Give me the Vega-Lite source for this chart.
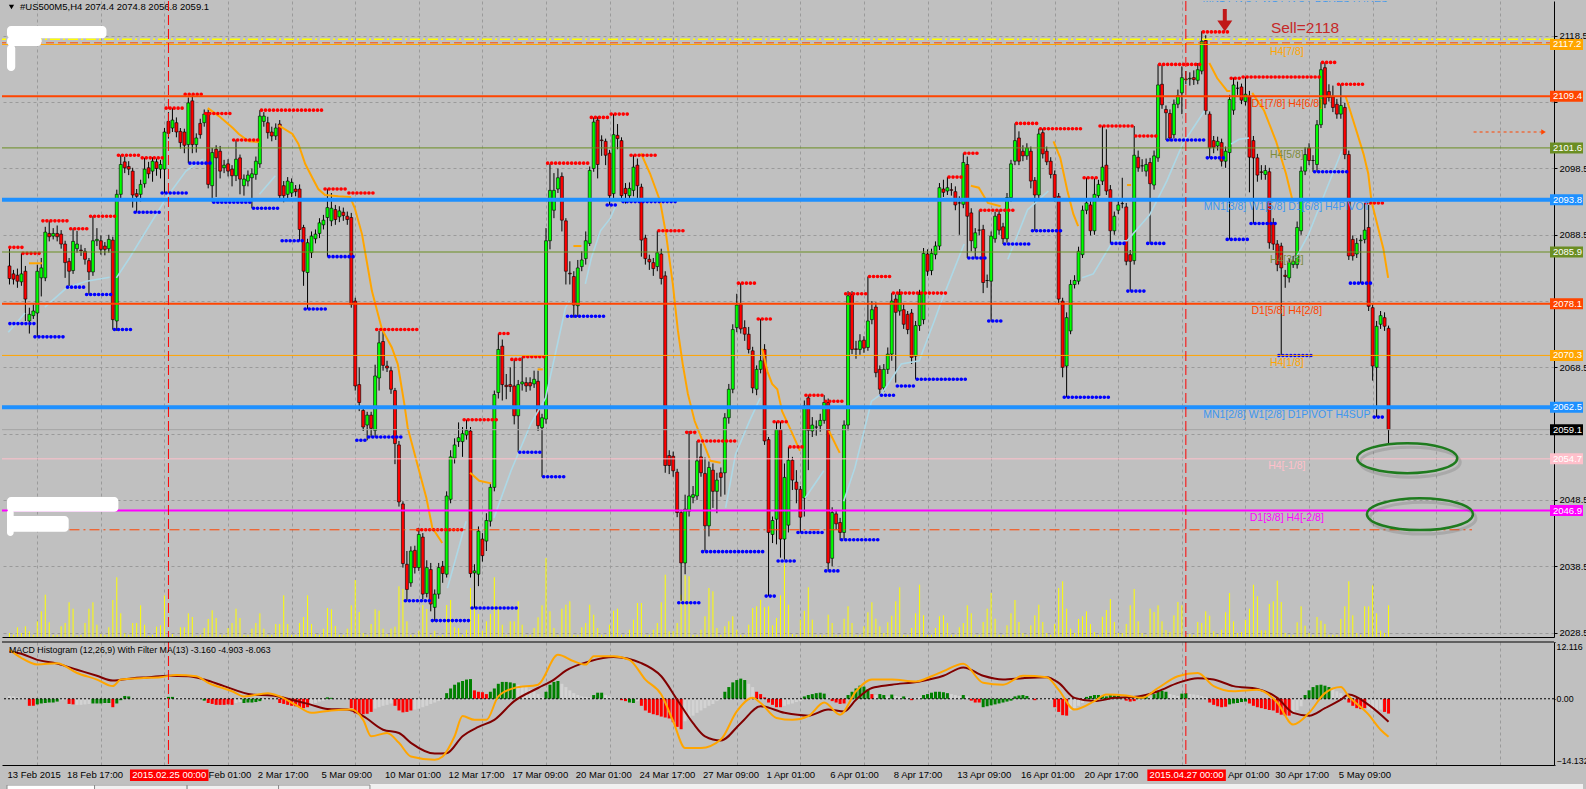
{
"$schema":"https://vega.github.io/schema/vega-lite/v6.json",
"padding":0,
"background":"#C0C0C0",
"spacing":3,
"config":{"view":{"stroke":null},"font":"Liberation Sans","text":{"font":"Liberation Sans"},"axis":{"labelFont":"Liberation Sans","labelFontSize":9.5,"labelColor":"#000000","domainColor":"#000000","tickColor":"#000000","gridColor":"#9A9A9A","gridDash":[3,3],"gridWidth":1}},
"datasets":{
"one":[{}],
"bars":[
{"n":0,"o":2083.8,"h":2086.6,"l":2081.0,"c":2081.9,"v":40,"m":0.6,"k":"s"},
{"n":1,"o":2082.6,"h":2083.2,"l":2081.0,"c":2081.8,"v":23,"m":0.5,"k":"s"},
{"n":2,"o":2082.4,"h":2083.4,"l":2080.5,"c":2081.5,"v":97,"m":0.3,"k":"s"},
{"n":3,"o":2081.4,"h":2085.7,"l":2080.8,"c":2082.6,"v":40,"m":0.2,"k":"s"},
{"n":4,"o":2083.0,"h":2083.8,"l":2075.5,"c":2078.8,"v":107,"m":0.1,"k":"s"},
{"n":5,"o":2075.5,"h":2077.5,"l":2073.6,"c":2076.5,"v":57,"m":-1.5,"k":"r"},
{"n":6,"o":2076.3,"h":2078.0,"l":2075.8,"c":2077.0,"v":23,"m":-1.5,"k":"r"},
{"n":7,"o":2076.7,"h":2084.0,"l":2073.1,"c":2083.0,"v":157,"m":-1.2,"k":"g"},
{"n":8,"o":2082.0,"h":2085.0,"l":2079.2,"c":2083.5,"v":257,"m":-1.0,"k":"g"},
{"n":9,"o":2082.0,"h":2089.7,"l":2081.5,"c":2088.9,"v":423,"m":-0.9,"k":"g"},
{"n":10,"o":2088.7,"h":2090.6,"l":2087.5,"c":2088.2,"v":147,"m":-0.8,"k":"g"},
{"n":11,"o":2088.3,"h":2089.5,"l":2087.8,"c":2088.7,"v":23,"m":-0.8,"k":"g"},
{"n":12,"o":2088.7,"h":2089.9,"l":2087.5,"c":2088.2,"v":23,"m":-0.6,"k":"g"},
{"n":13,"o":2088.6,"h":2089.2,"l":2086.4,"c":2087.1,"v":107,"m":-0.3,"k":"s"},
{"n":14,"o":2087.1,"h":2087.6,"l":2082.0,"c":2084.3,"v":140,"m":-0.2,"k":"s"},
{"n":15,"o":2084.5,"h":2085.0,"l":2080.6,"c":2083.0,"v":347,"m":-1.1,"k":"r"},
{"n":16,"o":2083.1,"h":2089.4,"l":2082.6,"c":2087.5,"v":283,"m":-1.2,"k":"r"},
{"n":17,"o":2086.4,"h":2089.1,"l":2085.8,"c":2087.1,"v":17,"m":-1.3,"k":"s"},
{"n":18,"o":2086.2,"h":2087.0,"l":2085.3,"c":2086.1,"v":23,"m":-1.3,"k":"s"},
{"n":19,"o":2086.0,"h":2086.5,"l":2084.0,"c":2084.8,"v":140,"m":-1.2,"k":"s"},
{"n":20,"o":2084.6,"h":2085.0,"l":2079.5,"c":2082.9,"v":283,"m":-1.1,"k":"s"},
{"n":21,"o":2082.9,"h":2091.3,"l":2082.3,"c":2087.6,"v":347,"m":-1.0,"k":"g"},
{"n":22,"o":2087.6,"h":2089.5,"l":2086.8,"c":2087.8,"v":123,"m":-1.0,"k":"g"},
{"n":23,"o":2087.6,"h":2088.4,"l":2085.5,"c":2086.3,"v":30,"m":-1.0,"k":"g"},
{"n":24,"o":2086.8,"h":2087.4,"l":2085.4,"c":2086.3,"v":23,"m":-0.9,"k":"g"},
{"n":25,"o":2086.4,"h":2088.5,"l":2085.8,"c":2087.8,"v":97,"m":-0.9,"k":"g"},
{"n":26,"o":2087.7,"h":2088.2,"l":2074.2,"c":2075.7,"v":370,"m":-1.8,"k":"r"},
{"n":27,"o":2075.5,"h":2095.3,"l":2074.0,"c":2094.6,"v":597,"m":-1.0,"k":"g"},
{"n":28,"o":2094.6,"h":2100.5,"l":2094.0,"c":2099.1,"v":237,"m":-0.3,"k":"g"},
{"n":29,"o":2099.5,"h":2100.3,"l":2097.8,"c":2098.6,"v":37,"m":0.6,"k":"g"},
{"n":30,"o":2098.8,"h":2099.6,"l":2097.5,"c":2098.4,"v":23,"m":0.5,"k":"g"},
{"n":31,"o":2098.1,"h":2098.6,"l":2092.6,"c":2094.5,"v":140,"m":0.2,"k":"s"},
{"n":32,"o":2094.7,"h":2095.4,"l":2091.9,"c":2094.3,"v":140,"m":0.1,"k":"s"},
{"n":33,"o":2094.6,"h":2096.8,"l":2093.5,"c":2096.1,"v":317,"m":0.2,"k":"s"},
{"n":34,"o":2096.2,"h":2100.1,"l":2095.6,"c":2098.4,"v":123,"m":0.1,"k":"s"},
{"n":35,"o":2098.6,"h":2099.5,"l":2097.0,"c":2097.7,"v":13,"m":0.1,"k":"s"},
{"n":36,"o":2098.1,"h":2100.2,"l":2096.5,"c":2099.6,"v":23,"m":-0.1,"k":"s"},
{"n":37,"o":2099.5,"h":2100.0,"l":2097.4,"c":2098.5,"v":103,"m":0.1,"k":"s"},
{"n":38,"o":2098.4,"h":2099.8,"l":2097.0,"c":2099.1,"v":117,"m":0.1,"k":"s"},
{"n":39,"o":2098.4,"h":2104.6,"l":2094.8,"c":2104.0,"v":417,"m":0.3,"k":"s"},
{"n":40,"o":2105.6,"h":2107.0,"l":2103.0,"c":2103.8,"v":7,"m":0.4,"k":"g"},
{"n":41,"o":2104.6,"h":2107.6,"l":2104.0,"c":2105.8,"v":30,"m":0.4,"k":"g"},
{"n":42,"o":2105.4,"h":2106.2,"l":2103.2,"c":2104.0,"v":7,"m":0.3,"k":"s"},
{"n":43,"o":2104.1,"h":2104.6,"l":2101.5,"c":2102.4,"v":97,"m":0.3,"k":"s"},
{"n":44,"o":2104.0,"h":2104.5,"l":2100.8,"c":2102.0,"v":97,"m":0.2,"k":"s"},
{"n":45,"o":2102.1,"h":2109.2,"l":2099.3,"c":2108.4,"v":237,"m":0.1,"k":"s"},
{"n":46,"o":2108.7,"h":2109.7,"l":2100.8,"c":2102.1,"v":200,"m":0.1,"k":"s"},
{"n":47,"o":2102.1,"h":2103.8,"l":2100.9,"c":2103.1,"v":13,"m":0,"k":"s"},
{"n":48,"o":2105.3,"h":2106.0,"l":2103.0,"c":2103.6,"v":23,"m":-0.1,"k":"s"},
{"n":49,"o":2105.4,"h":2107.4,"l":2104.8,"c":2106.7,"v":90,"m":-0.4,"k":"g"},
{"n":50,"o":2106.9,"h":2107.4,"l":2095.5,"c":2096.1,"v":180,"m":-0.9,"k":"r"},
{"n":51,"o":2095.9,"h":2101.6,"l":2093.4,"c":2100.9,"v":267,"m":-1.1,"k":"r"},
{"n":52,"o":2101.4,"h":2102.0,"l":2094.2,"c":2100.1,"v":190,"m":-1.3,"k":"r"},
{"n":53,"o":2101.1,"h":2101.9,"l":2097.0,"c":2098.1,"v":23,"m":-1.3,"k":"r"},
{"n":54,"o":2098.6,"h":2099.8,"l":2097.8,"c":2099.0,"v":23,"m":-1.3,"k":"r"},
{"n":55,"o":2099.2,"h":2099.9,"l":2097.3,"c":2098.1,"v":90,"m":-1.2,"k":"r"},
{"n":56,"o":2098.4,"h":2099.0,"l":2095.8,"c":2097.4,"v":140,"m":-1.3,"k":"r"},
{"n":57,"o":2097.4,"h":2102.8,"l":2096.6,"c":2099.9,"v":283,"m":-0.9,"k":"s"},
{"n":58,"o":2100.1,"h":2100.6,"l":2094.6,"c":2096.9,"v":190,"m":-0.7,"k":"s"},
{"n":59,"o":2095.9,"h":2097.6,"l":2094.4,"c":2096.9,"v":23,"m":-0.9,"k":"g"},
{"n":60,"o":2096.6,"h":2098.2,"l":2095.8,"c":2097.5,"v":23,"m":-0.8,"k":"g"},
{"n":61,"o":2097.1,"h":2098.5,"l":2092.5,"c":2097.7,"v":83,"m":-0.8,"k":"g"},
{"n":62,"o":2097.6,"h":2100.3,"l":2096.8,"c":2099.6,"v":140,"m":-0.7,"k":"g"},
{"n":63,"o":2099.2,"h":2107.3,"l":2098.6,"c":2106.4,"v":237,"m":-0.5,"k":"g"},
{"n":64,"o":2105.6,"h":2107.0,"l":2104.8,"c":2106.4,"v":83,"m":-0.3,"k":"s"},
{"n":65,"o":2105.4,"h":2106.3,"l":2103.0,"c":2103.9,"v":23,"m":-0.2,"k":"s"},
{"n":66,"o":2104.0,"h":2104.8,"l":2102.6,"c":2103.4,"v":23,"m":0.1,"k":"s"},
{"n":67,"o":2103.4,"h":2105.3,"l":2102.8,"c":2104.6,"v":130,"m":0.1,"k":"s"},
{"n":68,"o":2105.2,"h":2105.8,"l":2093.8,"c":2094.4,"v":130,"m":-0.9,"k":"r"},
{"n":69,"o":2095.9,"h":2096.6,"l":2093.4,"c":2094.4,"v":417,"m":-1.1,"k":"r"},
{"n":70,"o":2094.6,"h":2097.2,"l":2094.0,"c":2096.6,"v":130,"m":-1.3,"k":"r"},
{"n":71,"o":2094.8,"h":2097.0,"l":2094.2,"c":2096.4,"v":23,"m":-1.5,"k":"r"},
{"n":72,"o":2095.4,"h":2096.0,"l":2094.3,"c":2095.0,"v":23,"m":-1.6,"k":"r"},
{"n":73,"o":2095.4,"h":2096.1,"l":2087.6,"c":2089.3,"v":140,"m":-1.8,"k":"r"},
{"n":74,"o":2089.6,"h":2090.0,"l":2080.8,"c":2083.0,"v":200,"m":-2.0,"k":"r"},
{"n":75,"o":2082.8,"h":2087.9,"l":2077.3,"c":2087.3,"v":417,"m":-1.8,"k":"r"},
{"n":76,"o":2085.8,"h":2089.0,"l":2085.0,"c":2088.3,"v":130,"m":-1.2,"k":"s"},
{"n":77,"o":2087.9,"h":2089.3,"l":2087.2,"c":2088.6,"v":30,"m":-0.9,"k":"s"},
{"n":78,"o":2088.7,"h":2091.0,"l":2088.0,"c":2090.3,"v":23,"m":-0.6,"k":"s"},
{"n":79,"o":2090.0,"h":2091.5,"l":2089.3,"c":2090.7,"v":83,"m":-0.4,"k":"s"},
{"n":80,"o":2091.1,"h":2095.4,"l":2085.2,"c":2092.6,"v":290,"m":0.3,"k":"g"},
{"n":81,"o":2090.6,"h":2094.8,"l":2089.8,"c":2092.5,"v":277,"m":0.2,"k":"g"},
{"n":82,"o":2092.3,"h":2093.0,"l":2090.0,"c":2090.8,"v":110,"m":0.1,"k":"s"},
{"n":83,"o":2091.2,"h":2092.8,"l":2090.4,"c":2092.1,"v":23,"m":-0.1,"k":"s"},
{"n":84,"o":2091.9,"h":2092.6,"l":2090.6,"c":2091.4,"v":23,"m":0.1,"k":"s"},
{"n":85,"o":2091.3,"h":2092.0,"l":2090.0,"c":2090.8,"v":83,"m":0,"k":"s"},
{"n":86,"o":2091.1,"h":2091.8,"l":2077.5,"c":2078.0,"v":317,"m":-2.0,"k":"r"},
{"n":87,"o":2078.5,"h":2079.0,"l":2065.0,"c":2065.7,"v":570,"m":-3.1,"k":"r"},
{"n":88,"o":2065.9,"h":2068.5,"l":2061.9,"c":2063.2,"v":250,"m":-3.3,"k":"r"},
{"n":89,"o":2062.0,"h":2062.4,"l":2058.9,"c":2059.5,"v":40,"m":-3.3,"k":"r"},
{"n":90,"o":2059.8,"h":2061.8,"l":2057.5,"c":2061.3,"v":23,"m":-3.2,"k":"r"},
{"n":91,"o":2061.3,"h":2061.8,"l":2058.0,"c":2059.3,"v":130,"m":-2.8,"k":"r"},
{"n":92,"o":2059.0,"h":2068.9,"l":2058.0,"c":2067.2,"v":277,"m":-2.1,"k":"s"},
{"n":93,"o":2066.9,"h":2074.0,"l":2065.0,"c":2072.2,"v":263,"m":-1.8,"k":"s"},
{"n":94,"o":2072.4,"h":2074.2,"l":2068.0,"c":2068.8,"v":83,"m":-1.5,"k":"s"},
{"n":95,"o":2068.7,"h":2069.5,"l":2067.8,"c":2068.4,"v":30,"m":-1.3,"k":"s"},
{"n":96,"o":2068.0,"h":2068.6,"l":2064.5,"c":2065.2,"v":83,"m":-1.0,"k":"s"},
{"n":97,"o":2065.0,"h":2065.4,"l":2053.9,"c":2057.0,"v":103,"m":-1.5,"k":"r"},
{"n":98,"o":2056.8,"h":2057.4,"l":2047.5,"c":2048.2,"v":507,"m":-2.5,"k":"r"},
{"n":99,"o":2047.9,"h":2048.3,"l":2038.3,"c":2038.9,"v":480,"m":-2.9,"k":"r"},
{"n":100,"o":2038.8,"h":2040.8,"l":2033.3,"c":2035.0,"v":157,"m":-2.8,"k":"r"},
{"n":101,"o":2036.0,"h":2041.5,"l":2035.4,"c":2040.8,"v":23,"m":-2.5,"k":"r"},
{"n":102,"o":2040.9,"h":2041.6,"l":2037.4,"c":2038.3,"v":23,"m":-2.3,"k":"s"},
{"n":103,"o":2038.3,"h":2044.3,"l":2037.8,"c":2043.3,"v":63,"m":-2.1,"k":"s"},
{"n":104,"o":2042.9,"h":2043.5,"l":2033.5,"c":2034.3,"v":320,"m":-1.8,"k":"s"},
{"n":105,"o":2034.4,"h":2039.4,"l":2033.8,"c":2038.3,"v":280,"m":-1.5,"k":"s"},
{"n":106,"o":2038.0,"h":2039.0,"l":2031.7,"c":2032.8,"v":23,"m":-1.1,"k":"s"},
{"n":107,"o":2032.3,"h":2035.0,"l":2030.2,"c":2034.3,"v":63,"m":-0.8,"k":"s"},
{"n":108,"o":2034.3,"h":2039.0,"l":2033.6,"c":2038.3,"v":13,"m":-0.5,"k":"s"},
{"n":109,"o":2038.5,"h":2039.3,"l":2036.0,"c":2037.4,"v":23,"m":-0.2,"k":"s"},
{"n":110,"o":2037.3,"h":2049.8,"l":2036.8,"c":2049.1,"v":320,"m":1.2,"k":"g"},
{"n":111,"o":2048.6,"h":2056.0,"l":2048.0,"c":2055.0,"v":370,"m":2.2,"k":"g"},
{"n":112,"o":2054.8,"h":2057.8,"l":2054.0,"c":2056.8,"v":97,"m":3.0,"k":"g"},
{"n":113,"o":2057.3,"h":2060.2,"l":2056.5,"c":2057.9,"v":90,"m":3.5,"k":"g"},
{"n":114,"o":2057.3,"h":2059.5,"l":2055.0,"c":2058.5,"v":23,"m":3.8,"k":"g"},
{"n":115,"o":2058.3,"h":2060.6,"l":2057.6,"c":2059.0,"v":73,"m":4.1,"k":"g"},
{"n":116,"o":2058.9,"h":2059.5,"l":2036.8,"c":2037.4,"v":490,"m":4.2,"k":"g"},
{"n":117,"o":2037.5,"h":2038.8,"l":2032.2,"c":2037.8,"v":640,"m":1.8,"k":"r"},
{"n":118,"o":2037.3,"h":2044.5,"l":2035.5,"c":2043.8,"v":230,"m":1.5,"k":"r"},
{"n":119,"o":2042.6,"h":2043.5,"l":2039.2,"c":2040.1,"v":63,"m":1.4,"k":"r"},
{"n":120,"o":2042.3,"h":2046.5,"l":2040.8,"c":2045.4,"v":157,"m":1.0,"k":"r"},
{"n":121,"o":2045.3,"h":2051.0,"l":2044.5,"c":2050.4,"v":230,"m":1.5,"k":"g"},
{"n":122,"o":2050.4,"h":2065.0,"l":2049.8,"c":2064.4,"v":597,"m":2.2,"k":"g"},
{"n":123,"o":2064.7,"h":2073.6,"l":2063.8,"c":2071.2,"v":307,"m":3.2,"k":"g"},
{"n":124,"o":2071.7,"h":2072.7,"l":2063.5,"c":2065.9,"v":123,"m":3.6,"k":"g"},
{"n":125,"o":2065.8,"h":2067.5,"l":2063.7,"c":2065.6,"v":23,"m":3.6,"k":"g"},
{"n":126,"o":2065.9,"h":2068.5,"l":2064.8,"c":2065.6,"v":157,"m":3.5,"k":"g"},
{"n":127,"o":2065.7,"h":2069.7,"l":2059.9,"c":2061.2,"v":157,"m":3.3,"k":"g"},
{"n":128,"o":2061.2,"h":2066.6,"l":2055.7,"c":2065.9,"v":357,"m":3.0,"k":"s"},
{"n":129,"o":2066.0,"h":2070.1,"l":2065.0,"c":2066.3,"v":123,"m":2.8,"k":"s"},
{"n":130,"o":2066.2,"h":2067.0,"l":2064.8,"c":2065.7,"v":23,"m":2.5,"k":"s"},
{"n":131,"o":2066.2,"h":2067.0,"l":2065.0,"c":2065.7,"v":23,"m":2.0,"k":"s"},
{"n":132,"o":2066.0,"h":2068.0,"l":2065.4,"c":2066.7,"v":90,"m":1.5,"k":"s"},
{"n":133,"o":2066.4,"h":2068.0,"l":2058.9,"c":2059.7,"v":197,"m":1.0,"k":"s"},
{"n":134,"o":2059.4,"h":2061.5,"l":2052.0,"c":2060.9,"v":317,"m":0.3,"k":"s"},
{"n":135,"o":2060.7,"h":2089.5,"l":2060.0,"c":2087.6,"v":790,"m":1.5,"k":"g"},
{"n":136,"o":2087.6,"h":2099.2,"l":2086.3,"c":2095.2,"v":257,"m":3.0,"k":"g"},
{"n":137,"o":2092.2,"h":2097.8,"l":2091.0,"c":2095.2,"v":90,"m":3.6,"k":"g"},
{"n":138,"o":2095.4,"h":2098.5,"l":2094.8,"c":2097.1,"v":23,"m":3.8,"k":"g"},
{"n":139,"o":2097.3,"h":2097.9,"l":2089.0,"c":2090.7,"v":283,"m":3.2,"k":"s"},
{"n":140,"o":2090.6,"h":2091.0,"l":2081.0,"c":2083.0,"v":323,"m":2.5,"k":"s"},
{"n":141,"o":2082.7,"h":2084.5,"l":2081.0,"c":2082.6,"v":357,"m":1.8,"k":"s"},
{"n":142,"o":2082.2,"h":2083.0,"l":2076.0,"c":2077.9,"v":23,"m":1.2,"k":"s"},
{"n":143,"o":2077.8,"h":2084.7,"l":2076.1,"c":2083.5,"v":23,"m":0.8,"k":"s"},
{"n":144,"o":2083.7,"h":2086.0,"l":2083.0,"c":2084.7,"v":97,"m":0.5,"k":"s"},
{"n":145,"o":2084.9,"h":2089.0,"l":2084.0,"c":2087.6,"v":140,"m":0.4,"k":"s"},
{"n":146,"o":2087.2,"h":2098.8,"l":2086.8,"c":2098.2,"v":323,"m":0.3,"k":"s"},
{"n":147,"o":2098.5,"h":2106.2,"l":2098.0,"c":2105.5,"v":223,"m":0.8,"k":"g"},
{"n":148,"o":2105.8,"h":2106.3,"l":2097.0,"c":2099.1,"v":90,"m":1.3,"k":"g"},
{"n":149,"o":2102.8,"h":2103.5,"l":2100.4,"c":2102.7,"v":23,"m":1.3,"k":"g"},
{"n":150,"o":2102.6,"h":2103.0,"l":2099.0,"c":2100.5,"v":23,"m":0.8,"k":"s"},
{"n":151,"o":2100.8,"h":2101.3,"l":2093.0,"c":2094.4,"v":123,"m":0.5,"k":"s"},
{"n":152,"o":2094.7,"h":2106.7,"l":2094.0,"c":2103.6,"v":263,"m":0.2,"k":"s"},
{"n":153,"o":2103.5,"h":2105.2,"l":2101.4,"c":2103.0,"v":283,"m":0.1,"k":"s"},
{"n":154,"o":2102.7,"h":2103.2,"l":2093.5,"c":2094.4,"v":23,"m":-0.3,"k":"r"},
{"n":155,"o":2095.5,"h":2096.3,"l":2093.2,"c":2094.7,"v":23,"m":-0.5,"k":"r"},
{"n":156,"o":2094.4,"h":2096.4,"l":2093.5,"c":2095.5,"v":73,"m":-0.8,"k":"g"},
{"n":157,"o":2095.2,"h":2100.5,"l":2094.3,"c":2098.7,"v":173,"m":-0.9,"k":"g"},
{"n":158,"o":2099.0,"h":2100.0,"l":2094.0,"c":2095.9,"v":340,"m":-0.5,"k":"s"},
{"n":159,"o":2095.7,"h":2096.2,"l":2085.2,"c":2087.7,"v":340,"m":-1.5,"k":"r"},
{"n":160,"o":2088.0,"h":2088.5,"l":2084.0,"c":2084.9,"v":23,"m":-2.5,"k":"r"},
{"n":161,"o":2084.8,"h":2085.5,"l":2083.2,"c":2084.4,"v":23,"m":-3.0,"k":"r"},
{"n":162,"o":2084.3,"h":2085.0,"l":2082.3,"c":2083.4,"v":73,"m":-3.3,"k":"r"},
{"n":163,"o":2083.7,"h":2089.1,"l":2083.0,"c":2085.8,"v":140,"m":-3.5,"k":"r"},
{"n":164,"o":2085.6,"h":2086.4,"l":2081.0,"c":2081.9,"v":347,"m":-3.8,"k":"r"},
{"n":165,"o":2082.3,"h":2083.0,"l":2052.6,"c":2053.7,"v":623,"m":-4.0,"k":"r"},
{"n":166,"o":2055.2,"h":2056.0,"l":2052.4,"c":2053.7,"v":57,"m":-4.2,"k":"r"},
{"n":167,"o":2055.1,"h":2055.8,"l":2052.0,"c":2052.9,"v":57,"m":-5.0,"k":"r"},
{"n":168,"o":2052.7,"h":2053.2,"l":2045.9,"c":2046.6,"v":140,"m":-6.0,"k":"r"},
{"n":169,"o":2046.6,"h":2047.0,"l":2033.3,"c":2039.0,"v":423,"m":-6.5,"k":"r"},
{"n":170,"o":2039.0,"h":2049.3,"l":2037.3,"c":2047.1,"v":617,"m":-4.8,"k":"s"},
{"n":171,"o":2046.8,"h":2058.9,"l":2046.0,"c":2049.1,"v":607,"m":-4.2,"k":"s"},
{"n":172,"o":2048.9,"h":2050.6,"l":2048.0,"c":2049.3,"v":23,"m":-3.6,"k":"s"},
{"n":173,"o":2049.1,"h":2057.4,"l":2048.5,"c":2054.4,"v":23,"m":-3.0,"k":"s"},
{"n":174,"o":2055.0,"h":2057.0,"l":2052.0,"c":2052.6,"v":73,"m":-2.5,"k":"s"},
{"n":175,"o":2052.5,"h":2054.9,"l":2040.8,"c":2044.6,"v":207,"m":-2.0,"k":"s"},
{"n":176,"o":2044.6,"h":2054.3,"l":2043.0,"c":2053.4,"v":490,"m":-1.5,"k":"s"},
{"n":177,"o":2053.0,"h":2054.0,"l":2047.3,"c":2049.8,"v":457,"m":-1.1,"k":"s"},
{"n":178,"o":2049.8,"h":2052.6,"l":2046.5,"c":2051.5,"v":90,"m":-0.5,"k":"s"},
{"n":179,"o":2052.6,"h":2053.4,"l":2049.0,"c":2051.9,"v":23,"m":0.2,"k":"s"},
{"n":180,"o":2052.6,"h":2061.6,"l":2049.3,"c":2060.9,"v":107,"m":1.5,"k":"g"},
{"n":181,"o":2060.9,"h":2066.0,"l":2060.0,"c":2065.2,"v":157,"m":2.5,"k":"g"},
{"n":182,"o":2065.2,"h":2075.0,"l":2064.6,"c":2074.2,"v":207,"m":3.5,"k":"g"},
{"n":183,"o":2074.5,"h":2079.6,"l":2073.8,"c":2077.9,"v":73,"m":4.0,"k":"g"},
{"n":184,"o":2078.0,"h":2081.2,"l":2073.6,"c":2074.3,"v":23,"m":4.3,"k":"g"},
{"n":185,"o":2074.5,"h":2075.6,"l":2072.5,"c":2073.5,"v":23,"m":4.0,"k":"g"},
{"n":186,"o":2073.5,"h":2074.6,"l":2070.6,"c":2071.2,"v":123,"m":3.2,"k":"s"},
{"n":187,"o":2071.0,"h":2071.6,"l":2064.6,"c":2065.4,"v":290,"m":2.5,"k":"s"},
{"n":188,"o":2065.2,"h":2068.8,"l":2064.3,"c":2068.2,"v":307,"m":1.5,"k":"r"},
{"n":189,"o":2068.2,"h":2075.8,"l":2067.6,"c":2069.5,"v":373,"m":1.0,"k":"r"},
{"n":190,"o":2071.2,"h":2072.0,"l":2056.8,"c":2057.4,"v":297,"m":0.3,"k":"r"},
{"n":191,"o":2057.6,"h":2058.0,"l":2034.0,"c":2043.6,"v":307,"m":-0.8,"k":"r"},
{"n":192,"o":2043.3,"h":2046.0,"l":2042.0,"c":2045.4,"v":117,"m":-1.3,"k":"r"},
{"n":193,"o":2045.6,"h":2060.3,"l":2041.8,"c":2059.1,"v":190,"m":-1.8,"k":"r"},
{"n":194,"o":2059.1,"h":2060.3,"l":2039.8,"c":2042.6,"v":417,"m":-1.8,"k":"r"},
{"n":195,"o":2042.6,"h":2054.0,"l":2039.5,"c":2051.9,"v":737,"m":-1.5,"k":"s"},
{"n":196,"o":2044.7,"h":2056.5,"l":2043.6,"c":2054.5,"v":323,"m":-1.2,"k":"s"},
{"n":197,"o":2054.5,"h":2055.0,"l":2050.0,"c":2051.5,"v":30,"m":-1.0,"k":"s"},
{"n":198,"o":2051.2,"h":2053.0,"l":2048.0,"c":2050.1,"v":23,"m":-0.7,"k":"s"},
{"n":199,"o":2050.1,"h":2050.6,"l":2043.6,"c":2045.9,"v":173,"m":-0.5,"k":"s"},
{"n":200,"o":2048.8,"h":2063.5,"l":2046.0,"c":2062.7,"v":263,"m":0.5,"k":"g"},
{"n":201,"o":2063.9,"h":2064.3,"l":2053.0,"c":2059.0,"v":497,"m":0.8,"k":"g"},
{"n":202,"o":2058.9,"h":2061.0,"l":2058.0,"c":2059.8,"v":173,"m":1.0,"k":"g"},
{"n":203,"o":2059.5,"h":2060.5,"l":2058.2,"c":2059.5,"v":23,"m":1.2,"k":"g"},
{"n":204,"o":2059.7,"h":2061.5,"l":2058.8,"c":2060.5,"v":23,"m":1.3,"k":"g"},
{"n":205,"o":2060.5,"h":2064.3,"l":2060.0,"c":2063.2,"v":23,"m":1.1,"k":"g"},
{"n":206,"o":2063.2,"h":2063.8,"l":2037.8,"c":2039.0,"v":223,"m":0.2,"k":"s"},
{"n":207,"o":2039.7,"h":2047.4,"l":2038.5,"c":2046.6,"v":140,"m":-0.5,"k":"r"},
{"n":208,"o":2046.4,"h":2047.0,"l":2044.0,"c":2044.9,"v":23,"m":-0.8,"k":"r"},
{"n":209,"o":2045.1,"h":2045.8,"l":2042.4,"c":2043.6,"v":23,"m":-1.1,"k":"r"},
{"n":210,"o":2043.6,"h":2060.5,"l":2042.6,"c":2059.8,"v":183,"m":-1.0,"k":"r"},
{"n":211,"o":2059.8,"h":2080.0,"l":2059.0,"c":2079.3,"v":307,"m":0.8,"k":"g"},
{"n":212,"o":2079.5,"h":2080.0,"l":2070.5,"c":2071.2,"v":140,"m":1.5,"k":"g"},
{"n":213,"o":2071.3,"h":2072.5,"l":2069.8,"c":2071.2,"v":23,"m":2.2,"k":"g"},
{"n":214,"o":2071.2,"h":2073.5,"l":2070.4,"c":2072.5,"v":23,"m":2.8,"k":"g"},
{"n":215,"o":2072.6,"h":2073.2,"l":2070.7,"c":2071.4,"v":107,"m":2.6,"k":"g"},
{"n":216,"o":2071.5,"h":2082.2,"l":2071.0,"c":2075.5,"v":247,"m":2.0,"k":"g"},
{"n":217,"o":2075.7,"h":2078.5,"l":2075.0,"c":2077.2,"v":347,"m":1.0,"k":"r"},
{"n":218,"o":2077.6,"h":2078.3,"l":2067.0,"c":2067.7,"v":183,"m":0.8,"k":"s"},
{"n":219,"o":2068.2,"h":2068.8,"l":2064.3,"c":2065.2,"v":107,"m":1.0,"k":"g"},
{"n":220,"o":2065.4,"h":2069.0,"l":2064.8,"c":2068.2,"v":40,"m":0.8,"k":"g"},
{"n":221,"o":2068.2,"h":2071.5,"l":2067.5,"c":2070.5,"v":147,"m":0.5,"k":"s"},
{"n":222,"o":2070.5,"h":2079.7,"l":2069.5,"c":2078.5,"v":213,"m":0.9,"k":"g"},
{"n":223,"o":2078.8,"h":2079.5,"l":2066.2,"c":2076.8,"v":357,"m":0.6,"k":"s"},
{"n":224,"o":2077.0,"h":2080.3,"l":2076.3,"c":2079.5,"v":497,"m":0.4,"k":"s"},
{"n":225,"o":2077.2,"h":2078.0,"l":2074.3,"c":2075.0,"v":23,"m":0.5,"k":"g"},
{"n":226,"o":2076.5,"h":2077.0,"l":2073.5,"c":2074.2,"v":23,"m":0.3,"k":"s"},
{"n":227,"o":2076.7,"h":2077.3,"l":2069.0,"c":2070.0,"v":90,"m":-0.3,"k":"r"},
{"n":228,"o":2070.2,"h":2075.5,"l":2066.7,"c":2074.8,"v":237,"m":0.2,"k":"s"},
{"n":229,"o":2074.8,"h":2080.2,"l":2074.0,"c":2079.5,"v":523,"m":0.4,"k":"s"},
{"n":230,"o":2075.7,"h":2086.5,"l":2075.0,"c":2085.7,"v":217,"m":0.8,"k":"g"},
{"n":231,"o":2085.6,"h":2086.3,"l":2082.3,"c":2083.0,"v":23,"m":1.0,"k":"g"},
{"n":232,"o":2083.1,"h":2086.4,"l":2082.4,"c":2085.7,"v":23,"m":1.3,"k":"g"},
{"n":233,"o":2085.5,"h":2087.5,"l":2084.8,"c":2086.8,"v":90,"m":1.5,"k":"g"},
{"n":234,"o":2086.8,"h":2096.3,"l":2086.2,"c":2095.6,"v":207,"m":1.5,"k":"g"},
{"n":235,"o":2095.4,"h":2096.8,"l":2094.2,"c":2094.9,"v":217,"m":1.4,"k":"g"},
{"n":236,"o":2095.1,"h":2097.2,"l":2094.5,"c":2095.6,"v":140,"m":1.2,"k":"g"},
{"n":237,"o":2095.3,"h":2096.3,"l":2094.4,"c":2095.2,"v":23,"m":1.0,"k":"s"},
{"n":238,"o":2095.0,"h":2095.8,"l":2092.2,"c":2093.0,"v":23,"m":0.8,"k":"s"},
{"n":239,"o":2093.3,"h":2094.3,"l":2088.5,"c":2093.3,"v":97,"m":0.6,"k":"s"},
{"n":240,"o":2093.1,"h":2100.8,"l":2092.5,"c":2099.4,"v":140,"m":0.8,"k":"g"},
{"n":241,"o":2099.1,"h":2100.3,"l":2085.0,"c":2091.3,"v":317,"m":0.5,"k":"s"},
{"n":242,"o":2091.8,"h":2092.5,"l":2086.0,"c":2087.6,"v":237,"m":-0.4,"k":"r"},
{"n":243,"o":2086.5,"h":2089.5,"l":2085.0,"c":2088.8,"v":23,"m":-0.8,"k":"r"},
{"n":244,"o":2089.2,"h":2092.2,"l":2088.4,"c":2089.2,"v":23,"m":-0.8,"k":"r"},
{"n":245,"o":2089.3,"h":2090.0,"l":2079.7,"c":2081.3,"v":150,"m":-1.8,"k":"g"},
{"n":246,"o":2081.6,"h":2082.5,"l":2080.5,"c":2081.6,"v":283,"m":-1.6,"k":"g"},
{"n":247,"o":2081.5,"h":2089.0,"l":2075.5,"c":2088.3,"v":440,"m":-1.4,"k":"g"},
{"n":248,"o":2087.9,"h":2092.0,"l":2087.3,"c":2091.3,"v":183,"m":-1.2,"k":"g"},
{"n":249,"o":2091.6,"h":2092.2,"l":2088.5,"c":2089.2,"v":23,"m":-1.0,"k":"g"},
{"n":250,"o":2089.7,"h":2090.3,"l":2087.1,"c":2087.9,"v":23,"m":-0.8,"k":"g"},
{"n":251,"o":2087.9,"h":2094.8,"l":2087.3,"c":2094.1,"v":117,"m":-0.6,"k":"g"},
{"n":252,"o":2094.1,"h":2099.8,"l":2093.5,"c":2099.2,"v":237,"m":-0.4,"k":"g"},
{"n":253,"o":2099.6,"h":2105.3,"l":2099.0,"c":2102.7,"v":370,"m":0.5,"k":"g"},
{"n":254,"o":2103.1,"h":2104.1,"l":2099.0,"c":2099.6,"v":150,"m":0.7,"k":"g"},
{"n":255,"o":2101.1,"h":2102.0,"l":2099.6,"c":2100.4,"v":40,"m":0.8,"k":"g"},
{"n":256,"o":2100.4,"h":2102.3,"l":2099.8,"c":2101.6,"v":23,"m":0.6,"k":"g"},
{"n":257,"o":2101.1,"h":2101.8,"l":2095.5,"c":2096.6,"v":117,"m":0.2,"k":"s"},
{"n":258,"o":2096.7,"h":2097.2,"l":2089.1,"c":2094.5,"v":217,"m":-0.3,"k":"r"},
{"n":259,"o":2094.5,"h":2104.5,"l":2094.0,"c":2103.7,"v":323,"m":-0.1,"k":"s"},
{"n":260,"o":2103.9,"h":2104.5,"l":2100.0,"c":2100.7,"v":150,"m":0.1,"k":"s"},
{"n":261,"o":2101.1,"h":2101.8,"l":2099.0,"c":2099.5,"v":40,"m":-0.2,"k":"s"},
{"n":262,"o":2099.6,"h":2100.2,"l":2097.0,"c":2097.6,"v":23,"m":-0.3,"k":"s"},
{"n":263,"o":2097.6,"h":2098.2,"l":2093.5,"c":2094.1,"v":130,"m":-1.8,"k":"r"},
{"n":264,"o":2094.3,"h":2094.8,"l":2078.0,"c":2078.8,"v":490,"m":-2.8,"k":"r"},
{"n":265,"o":2078.5,"h":2079.0,"l":2067.0,"c":2068.5,"v":557,"m":-3.5,"k":"r"},
{"n":266,"o":2068.7,"h":2076.8,"l":2064.0,"c":2076.0,"v":283,"m":-3.6,"k":"r"},
{"n":267,"o":2074.0,"h":2081.7,"l":2073.5,"c":2081.0,"v":83,"m":-2.5,"k":"s"},
{"n":268,"o":2081.0,"h":2082.4,"l":2080.4,"c":2081.6,"v":40,"m":-2.0,"k":"s"},
{"n":269,"o":2081.5,"h":2086.7,"l":2081.0,"c":2086.0,"v":180,"m":-1.5,"k":"s"},
{"n":270,"o":2085.5,"h":2092.9,"l":2085.0,"c":2092.2,"v":207,"m":-0.9,"k":"s"},
{"n":271,"o":2092.2,"h":2097.1,"l":2091.6,"c":2093.3,"v":257,"m":0.4,"k":"g"},
{"n":272,"o":2093.0,"h":2093.7,"l":2088.4,"c":2089.1,"v":130,"m":0.6,"k":"g"},
{"n":273,"o":2089.1,"h":2097.0,"l":2088.5,"c":2094.6,"v":50,"m":0.8,"k":"g"},
{"n":274,"o":2094.4,"h":2096.8,"l":2093.8,"c":2096.1,"v":23,"m":0.8,"k":"g"},
{"n":275,"o":2096.6,"h":2104.9,"l":2096.0,"c":2098.7,"v":203,"m":0.6,"k":"g"},
{"n":276,"o":2099.0,"h":2104.4,"l":2094.5,"c":2095.1,"v":270,"m":0.5,"k":"g"},
{"n":277,"o":2095.3,"h":2096.0,"l":2087.2,"c":2089.1,"v":380,"m":0.8,"k":"g"},
{"n":278,"o":2089.1,"h":2092.0,"l":2088.5,"c":2091.3,"v":150,"m":0.7,"k":"g"},
{"n":279,"o":2092.2,"h":2094.0,"l":2091.6,"c":2093.0,"v":40,"m":0.6,"k":"g"},
{"n":280,"o":2093.2,"h":2097.1,"l":2092.5,"c":2093.2,"v":40,"m":0.3,"k":"s"},
{"n":281,"o":2092.7,"h":2093.3,"l":2083.9,"c":2084.5,"v":130,"m":-0.4,"k":"r"},
{"n":282,"o":2085.5,"h":2086.2,"l":2080.0,"c":2084.5,"v":317,"m":-0.6,"k":"r"},
{"n":283,"o":2084.6,"h":2104.9,"l":2084.0,"c":2100.5,"v":480,"m":-0.5,"k":"r"},
{"n":284,"o":2100.2,"h":2101.2,"l":2098.0,"c":2098.6,"v":157,"m":0.4,"k":"g"},
{"n":285,"o":2098.9,"h":2099.9,"l":2098.0,"c":2098.9,"v":40,"m":0.6,"k":"g"},
{"n":286,"o":2098.1,"h":2100.0,"l":2097.3,"c":2099.1,"v":23,"m":0.5,"k":"g"},
{"n":287,"o":2099.4,"h":2100.1,"l":2087.2,"c":2096.2,"v":283,"m":0.2,"k":"s"},
{"n":288,"o":2096.0,"h":2101.2,"l":2095.3,"c":2100.4,"v":250,"m":1.0,"k":"g"},
{"n":289,"o":2100.1,"h":2114.2,"l":2099.5,"c":2111.1,"v":317,"m":1.5,"k":"g"},
{"n":290,"o":2111.2,"h":2114.1,"l":2107.5,"c":2108.1,"v":157,"m":1.7,"k":"g"},
{"n":291,"o":2107.4,"h":2108.0,"l":2102.8,"c":2106.9,"v":70,"m":1.5,"k":"g"},
{"n":292,"o":2106.8,"h":2107.4,"l":2102.6,"c":2103.1,"v":50,"m":1.0,"k":"s"},
{"n":293,"o":2103.6,"h":2108.9,"l":2103.0,"c":2108.2,"v":217,"m":0.8,"k":"s"},
{"n":294,"o":2108.2,"h":2110.4,"l":2107.6,"c":2109.5,"v":350,"m":0.6,"k":"s"},
{"n":295,"o":2109.9,"h":2113.9,"l":2106.7,"c":2112.2,"v":317,"m":1.1,"k":"g"},
{"n":296,"o":2111.9,"h":2113.2,"l":2111.2,"c":2112.0,"v":23,"m":1.2,"k":"g"},
{"n":297,"o":2112.0,"h":2113.0,"l":2111.0,"c":2112.1,"v":30,"m":1.0,"k":"s"},
{"n":298,"o":2112.2,"h":2113.3,"l":2111.1,"c":2111.9,"v":23,"m":0.9,"k":"s"},
{"n":299,"o":2111.8,"h":2114.4,"l":2111.2,"c":2113.4,"v":150,"m":0.8,"k":"s"},
{"n":300,"o":2113.2,"h":2119.2,"l":2112.7,"c":2117.7,"v":140,"m":0.6,"k":"s"},
{"n":301,"o":2117.8,"h":2118.6,"l":2106.6,"c":2107.2,"v":257,"m":0.4,"k":"s"},
{"n":302,"o":2106.7,"h":2107.1,"l":2100.1,"c":2101.6,"v":213,"m":-0.8,"k":"r"},
{"n":303,"o":2102.7,"h":2103.4,"l":2100.8,"c":2101.7,"v":57,"m":-1.3,"k":"r"},
{"n":304,"o":2101.9,"h":2103.3,"l":2101.2,"c":2102.6,"v":30,"m":-1.6,"k":"r"},
{"n":305,"o":2102.4,"h":2103.0,"l":2098.8,"c":2099.6,"v":73,"m":-1.8,"k":"r"},
{"n":306,"o":2099.6,"h":2101.8,"l":2098.6,"c":2101.1,"v":247,"m":-1.7,"k":"r"},
{"n":307,"o":2100.9,"h":2109.6,"l":2087.8,"c":2108.9,"v":440,"m":-1.2,"k":"g"},
{"n":308,"o":2107.3,"h":2112.2,"l":2106.6,"c":2111.1,"v":157,"m":-1.0,"k":"g"},
{"n":309,"o":2110.6,"h":2111.6,"l":2109.6,"c":2110.6,"v":40,"m":-0.9,"k":"g"},
{"n":310,"o":2110.8,"h":2111.3,"l":2108.2,"c":2108.8,"v":50,"m":-0.7,"k":"g"},
{"n":311,"o":2108.6,"h":2112.3,"l":2108.0,"c":2109.7,"v":173,"m":-0.6,"k":"g"},
{"n":312,"o":2109.4,"h":2110.2,"l":2094.9,"c":2100.2,"v":283,"m":-1.0,"k":"r"},
{"n":313,"o":2102.7,"h":2103.4,"l":2090.2,"c":2100.1,"v":523,"m":-1.5,"k":"r"},
{"n":314,"o":2100.1,"h":2100.7,"l":2096.5,"c":2097.5,"v":407,"m":-1.8,"k":"r"},
{"n":315,"o":2098.0,"h":2099.0,"l":2096.8,"c":2097.9,"v":67,"m":-2.0,"k":"r"},
{"n":316,"o":2097.6,"h":2099.0,"l":2096.8,"c":2098.2,"v":67,"m":-2.2,"k":"r"},
{"n":317,"o":2098.0,"h":2098.6,"l":2086.4,"c":2087.3,"v":330,"m":-2.4,"k":"r"},
{"n":318,"o":2090.3,"h":2091.0,"l":2086.2,"c":2087.1,"v":357,"m":-2.5,"k":"r"},
{"n":319,"o":2087.1,"h":2087.7,"l":2083.0,"c":2084.0,"v":563,"m":-3.0,"k":"r"},
{"n":320,"o":2086.8,"h":2087.3,"l":2070.3,"c":2083.5,"v":350,"m":-3.4,"k":"r"},
{"n":321,"o":2082.4,"h":2083.2,"l":2080.5,"c":2082.2,"v":40,"m":-3.6,"k":"r"},
{"n":322,"o":2082.0,"h":2085.0,"l":2081.3,"c":2084.3,"v":23,"m":-3.6,"k":"r"},
{"n":323,"o":2084.0,"h":2085.3,"l":2083.5,"c":2084.5,"v":23,"m":-3.0,"k":"s"},
{"n":324,"o":2084.0,"h":2090.5,"l":2083.4,"c":2089.6,"v":147,"m":-2.4,"k":"s"},
{"n":325,"o":2089.1,"h":2098.8,"l":2088.5,"c":2098.1,"v":307,"m":-1.6,"k":"s"},
{"n":326,"o":2098.1,"h":2101.7,"l":2097.5,"c":2100.6,"v":113,"m":0.8,"k":"g"},
{"n":327,"o":2101.6,"h":2102.3,"l":2099.0,"c":2099.7,"v":40,"m":1.8,"k":"g"},
{"n":328,"o":2099.7,"h":2100.5,"l":2098.0,"c":2099.7,"v":23,"m":2.5,"k":"g"},
{"n":329,"o":2099.1,"h":2105.8,"l":2098.0,"c":2105.1,"v":200,"m":2.9,"k":"g"},
{"n":330,"o":2105.1,"h":2114.5,"l":2104.6,"c":2113.4,"v":163,"m":3.0,"k":"g"},
{"n":331,"o":2113.7,"h":2114.5,"l":2107.6,"c":2108.2,"v":130,"m":2.8,"k":"g"},
{"n":332,"o":2110.1,"h":2111.2,"l":2108.6,"c":2109.2,"v":23,"m":2.5,"k":"g"},
{"n":333,"o":2109.3,"h":2111.0,"l":2107.0,"c":2107.7,"v":23,"m":2.0,"k":"s"},
{"n":334,"o":2108.2,"h":2109.0,"l":2106.0,"c":2106.7,"v":23,"m":1.6,"k":"s"},
{"n":335,"o":2106.7,"h":2111.2,"l":2106.0,"c":2108.0,"v":180,"m":1.2,"k":"s"},
{"n":336,"o":2107.7,"h":2108.4,"l":2099.9,"c":2100.6,"v":307,"m":0.6,"k":"s"},
{"n":337,"o":2100.6,"h":2101.2,"l":2084.7,"c":2085.3,"v":557,"m":-0.8,"k":"r"},
{"n":338,"o":2087.8,"h":2088.4,"l":2084.6,"c":2085.3,"v":217,"m":-1.5,"k":"r"},
{"n":339,"o":2085.6,"h":2088.0,"l":2085.0,"c":2087.2,"v":40,"m":-2.0,"k":"r"},
{"n":340,"o":2087.6,"h":2088.5,"l":2081.2,"c":2087.7,"v":23,"m":-2.2,"k":"r"},
{"n":341,"o":2087.8,"h":2093.3,"l":2087.2,"c":2089.2,"v":307,"m":-2.0,"k":"r"},
{"n":342,"o":2089.6,"h":2093.0,"l":2077.0,"c":2077.7,"v":307,"m":-2.3,"k":"s"},
{"n":343,"o":2077.5,"h":2078.0,"l":2066.5,"c":2068.7,"v":517,"m":-2.5,"k":"s"},
{"n":344,"o":2068.5,"h":2075.5,"l":2061.0,"c":2074.7,"v":237,"m":-2.4,"k":"s"},
{"n":345,"o":2075.0,"h":2077.0,"l":2074.3,"c":2076.3,"v":63,"m":-2.3,"k":"s"},
{"n":346,"o":2076.0,"h":2076.8,"l":2074.0,"c":2074.7,"v":40,"m":-2.8,"k":"r"},
{"n":347,"o":2074.4,"h":2074.8,"l":2056.8,"c":2059.1,"v":317,"m":-3.16,"k":"r"}
],
"ml":[
{"s":"sig","n":0,"y":10.1},{"s":"sig","n":3,"y":9.6},{"s":"sig","n":7,"y":8.3},{"s":"sig","n":12,"y":7.5},{"s":"sig","n":17,"y":6.2},{"s":"sig","n":22,"y":4.9},{"s":"sig","n":26,"y":3.9},{"s":"sig","n":31,"y":4.4},{"s":"sig","n":35,"y":4.6},{"s":"sig","n":40,"y":4.9},{"s":"sig","n":45,"y":4.8},{"s":"sig","n":49,"y":4.1},{"s":"sig","n":54,"y":2.7},{"s":"sig","n":61,"y":0.9},{"s":"sig","n":66,"y":0.7},{"s":"sig","n":71,"y":-0.2},{"s":"sig","n":76,"y":-1.3},{"s":"sig","n":80,"y":-2.2},{"s":"sig","n":85,"y":-2.3},{"s":"sig","n":89,"y":-3.7},{"s":"sig","n":94,"y":-6.6},{"s":"sig","n":98,"y":-7.3},{"s":"sig","n":101,"y":-9.4},{"s":"sig","n":107,"y":-11.7},{"s":"sig","n":110,"y":-11.6},{"s":"sig","n":114,"y":-8.0},{"s":"sig","n":118,"y":-6.0},{"s":"sig","n":122,"y":-4.5},{"s":"sig","n":127,"y":-0.5},{"s":"sig","n":133,"y":2.3},{"s":"sig","n":137,"y":4.1},{"s":"sig","n":140,"y":6.0},{"s":"sig","n":146,"y":8.0},{"s":"sig","n":152,"y":8.9},{"s":"sig","n":159,"y":7.6},{"s":"sig","n":164,"y":4.8},{"s":"sig","n":168,"y":-0.2},{"s":"sig","n":172,"y":-5.2},{"s":"sig","n":175,"y":-8.0},{"s":"sig","n":179,"y":-8.9},{"s":"sig","n":184,"y":-5.2},{"s":"sig","n":189,"y":-1.6},{"s":"sig","n":195,"y":-3.0},{"s":"sig","n":201,"y":-3.6},{"s":"sig","n":206,"y":-2.3},{"s":"sig","n":210,"y":-2.7},{"s":"sig","n":213,"y":-0.2},{"s":"sig","n":217,"y":2.3},{"s":"sig","n":222,"y":3.0},{"s":"sig","n":229,"y":3.7},{"s":"sig","n":235,"y":4.9},{"s":"sig","n":240,"y":6.7},{"s":"sig","n":245,"y":4.9},{"s":"sig","n":250,"y":4.1},{"s":"sig","n":255,"y":4.4},{"s":"sig","n":261,"y":4.6},{"s":"sig","n":264,"y":3.4},{"s":"sig","n":268,"y":0.2},{"s":"sig","n":273,"y":-0.5},{"s":"sig","n":278,"y":0.2},{"s":"sig","n":284,"y":0.5},{"s":"sig","n":289,"y":1.6},{"s":"sig","n":294,"y":3.4},{"s":"sig","n":299,"y":4.4},{"s":"sig","n":303,"y":4.1},{"s":"sig","n":308,"y":2.7},{"s":"sig","n":314,"y":2.1},{"s":"sig","n":319,"y":0.2},{"s":"sig","n":323,"y":-3.0},{"s":"sig","n":327,"y":-3.6},{"s":"sig","n":331,"y":-2.0},{"s":"sig","n":335,"y":-0.2},{"s":"sig","n":337,"y":0.9},{"s":"sig","n":342,"y":-1.3},{"s":"sig","n":347,"y":-4.9},
{"s":"macd","n":0,"y":10.5},{"s":"macd","n":3,"y":8.7},{"s":"macd","n":7,"y":7.3},{"s":"macd","n":12,"y":7.6},{"s":"macd","n":17,"y":5.5},{"s":"macd","n":22,"y":4.1},{"s":"macd","n":26,"y":2.7},{"s":"macd","n":28,"y":4.1},{"s":"macd","n":33,"y":4.4},{"s":"macd","n":38,"y":4.6},{"s":"macd","n":42,"y":5.1},{"s":"macd","n":47,"y":4.8},{"s":"macd","n":50,"y":3.4},{"s":"macd","n":56,"y":1.6},{"s":"macd","n":59,"y":0.5},{"s":"macd","n":65,"y":1.2},{"s":"macd","n":68,"y":0.5},{"s":"macd","n":72,"y":-1.3},{"s":"macd","n":76,"y":-3.0},{"s":"macd","n":81,"y":-2.5},{"s":"macd","n":86,"y":-2.3},{"s":"macd","n":89,"y":-4.5},{"s":"macd","n":91,"y":-8.0},{"s":"macd","n":95,"y":-7.3},{"s":"macd","n":98,"y":-9.4},{"s":"macd","n":101,"y":-12.3},{"s":"macd","n":107,"y":-13.0},{"s":"macd","n":109,"y":-12.3},{"s":"macd","n":112,"y":-8.0},{"s":"macd","n":114,"y":-3.7},{"s":"macd","n":117,"y":-4.5},{"s":"macd","n":120,"y":-4.5},{"s":"macd","n":123,"y":0.5},{"s":"macd","n":127,"y":2.3},{"s":"macd","n":133,"y":3.0},{"s":"macd","n":138,"y":9.4},{"s":"macd","n":142,"y":8.0},{"s":"macd","n":145,"y":7.3},{"s":"macd","n":147,"y":9.1},{"s":"macd","n":152,"y":9.1},{"s":"macd","n":156,"y":8.3},{"s":"macd","n":160,"y":4.1},{"s":"macd","n":164,"y":0.9},{"s":"macd","n":167,"y":-4.8},{"s":"macd","n":170,"y":-10.5},{"s":"macd","n":174,"y":-10.5},{"s":"macd","n":179,"y":-8.7},{"s":"macd","n":183,"y":-2.7},{"s":"macd","n":187,"y":0.2},{"s":"macd","n":189,"y":-0.9},{"s":"macd","n":193,"y":-4.1},{"s":"macd","n":197,"y":-4.5},{"s":"macd","n":201,"y":-3.7},{"s":"macd","n":205,"y":-0.8},{"s":"macd","n":209,"y":-3.4},{"s":"macd","n":213,"y":1.6},{"s":"macd","n":217,"y":4.1},{"s":"macd","n":222,"y":4.1},{"s":"macd","n":228,"y":3.7},{"s":"macd","n":232,"y":4.8},{"s":"macd","n":235,"y":5.9},{"s":"macd","n":240,"y":7.5},{"s":"macd","n":245,"y":3.4},{"s":"macd","n":250,"y":3.0},{"s":"macd","n":255,"y":4.9},{"s":"macd","n":261,"y":4.6},{"s":"macd","n":264,"y":1.9},{"s":"macd","n":268,"y":-2.3},{"s":"macd","n":273,"y":-0.5},{"s":"macd","n":276,"y":0.9},{"s":"macd","n":281,"y":0.7},{"s":"macd","n":285,"y":0.2},{"s":"macd","n":289,"y":2.3},{"s":"macd","n":294,"y":4.8},{"s":"macd","n":299,"y":5.5},{"s":"macd","n":303,"y":2.7},{"s":"macd","n":308,"y":1.6},{"s":"macd","n":314,"y":1.9},{"s":"macd","n":319,"y":-0.8},{"s":"macd","n":323,"y":-5.5},{"s":"macd","n":327,"y":-3.0},{"s":"macd","n":331,"y":1.2},{"s":"macd","n":335,"y":2.5},{"s":"macd","n":337,"y":0.5},{"s":"macd","n":342,"y":-3.4},{"s":"macd","n":345,"y":-6.6},{"s":"macd","n":347,"y":-8.1}
],
"tr":[
{"s":1,"n":4.9,"p":2084.2},{"s":1,"n":8.2,"p":2084.2},
{"s":2,"n":49.9,"p":2107.6},{"s":2,"n":52.7,"p":2106.4},{"s":2,"n":56.2,"p":2104.6},{"s":2,"n":57.7,"p":2103.7},{"s":2,"n":60.2,"p":2102.6},{"s":2,"n":62.7,"p":2102.5},
{"s":3,"n":67.7,"p":2105.0},{"s":3,"n":71.2,"p":2103.7},{"s":3,"n":72.7,"p":2102.2},{"s":3,"n":74.4,"p":2099.2},{"s":3,"n":76.2,"p":2097.1},{"s":3,"n":77.7,"p":2095.4},{"s":3,"n":79.4,"p":2094.5},{"s":3,"n":82.7,"p":2094.3},{"s":3,"n":85.7,"p":2094.2},{"s":3,"n":86.9,"p":2092.5},{"s":3,"n":88.7,"p":2088.6},{"s":3,"n":91.2,"p":2080.0},{"s":3,"n":93.7,"p":2074.3},{"s":3,"n":96.2,"p":2071.5},{"s":3,"n":97.7,"p":2069.0},{"s":3,"n":99.4,"p":2062.8},{"s":3,"n":100.2,"p":2059.4},{"s":3,"n":102.4,"p":2054.4},{"s":3,"n":104.9,"p":2048.8},{"s":3,"n":106.4,"p":2044.3},{"s":3,"n":108.9,"p":2042.0},
{"s":4,"n":115.9,"p":2052.6},{"s":4,"n":118.2,"p":2051.4},{"s":4,"n":121.2,"p":2051.0},
{"s":5,"n":132.9,"p":2068.2},{"s":5,"n":134.2,"p":2068.2},
{"s":6,"n":141.9,"p":2086.8},{"s":6,"n":143.9,"p":2086.8},
{"s":7,"n":158.9,"p":2100.8},{"s":7,"n":161.2,"p":2097.7},{"s":7,"n":163.7,"p":2093.6},{"s":7,"n":165.2,"p":2088.6},{"s":7,"n":166.9,"p":2081.1},{"s":7,"n":168.2,"p":2074.0},{"s":7,"n":169.4,"p":2069.0},{"s":7,"n":170.7,"p":2064.5},{"s":7,"n":172.4,"p":2060.4},{"s":7,"n":174.4,"p":2057.4},{"s":7,"n":176.4,"p":2054.4},{"s":7,"n":178.9,"p":2054.1},
{"s":8,"n":189.4,"p":2071.3},{"s":8,"n":190.7,"p":2067.9},{"s":8,"n":191.9,"p":2066.0},{"s":8,"n":193.2,"p":2065.2},{"s":8,"n":194.4,"p":2061.9},{"s":8,"n":196.4,"p":2059.3},{"s":8,"n":198.9,"p":2055.9},
{"s":9,"n":206.2,"p":2058.9},{"s":9,"n":208.9,"p":2055.6},
{"s":10,"n":241.9,"p":2095.9},{"s":10,"n":243.9,"p":2095.6},{"s":10,"n":246.2,"p":2093.3},{"s":10,"n":249.4,"p":2092.8},
{"s":11,"n":262.7,"p":2102.6},{"s":11,"n":264.4,"p":2100.1},{"s":11,"n":266.2,"p":2095.1},{"s":11,"n":267.7,"p":2091.6},{"s":11,"n":268.9,"p":2089.8},
{"s":12,"n":281.2,"p":2096.0},{"s":12,"n":282.2,"p":2096.0},
{"s":13,"n":301.9,"p":2114.4},{"s":13,"n":303.9,"p":2112.1},{"s":13,"n":306.4,"p":2110.2},{"s":13,"n":307.2,"p":2110.2},
{"s":14,"n":312.7,"p":2109.9},{"s":14,"n":315.7,"p":2107.2},{"s":14,"n":318.7,"p":2102.6},{"s":14,"n":321.2,"p":2097.7},{"s":14,"n":322.7,"p":2094.0},
{"s":15,"n":336.2,"p":2109.4},{"s":15,"n":338.7,"p":2104.6},{"s":15,"n":340.7,"p":2100.7},{"s":15,"n":341.9,"p":2097.7},{"s":15,"n":342.7,"p":2093.6},{"s":15,"n":344.4,"p":2089.5},{"s":15,"n":345.7,"p":2086.4},{"s":15,"n":346.9,"p":2082.0}
],
"ma":[
{"s":1,"n":-0.3,"p":2073.8},{"s":1,"n":3.9,"p":2076.7},
{"s":2,"n":8.9,"p":2077.6},{"s":2,"n":14.4,"p":2080.5},{"s":2,"n":19.4,"p":2081.5},{"s":2,"n":25.2,"p":2082.1},
{"s":3,"n":26.9,"p":2082.0},{"s":3,"n":30.2,"p":2085.0},{"s":3,"n":34.4,"p":2089.1},{"s":3,"n":39.4,"p":2094.0},{"s":3,"n":44.4,"p":2098.1},{"s":3,"n":48.7,"p":2099.9},
{"s":4,"n":62.9,"p":2094.6},{"s":4,"n":66.9,"p":2097.4},
{"s":5,"n":110.2,"p":2035.2},{"s":5,"n":114.9,"p":2045.3},
{"s":6,"n":121.9,"p":2045.8},{"s":6,"n":126.2,"p":2052.9},{"s":6,"n":131.2,"p":2060.0},{"s":6,"n":134.9,"p":2063.9},{"s":6,"n":137.7,"p":2071.5},{"s":6,"n":139.9,"p":2077.5},{"s":6,"n":140.9,"p":2078.5},
{"s":7,"n":144.9,"p":2081.1},{"s":7,"n":146.4,"p":2085.0},{"s":7,"n":148.7,"p":2089.1},{"s":7,"n":151.2,"p":2091.0},{"s":7,"n":152.7,"p":2093.1},
{"s":8,"n":180.2,"p":2047.3},{"s":8,"n":182.7,"p":2055.4},{"s":8,"n":186.2,"p":2060.4},{"s":8,"n":188.9,"p":2063.9},
{"s":9,"n":200.2,"p":2048.8},{"s":9,"n":204.9,"p":2052.9},
{"s":10,"n":209.9,"p":2048.3},{"s":10,"n":212.7,"p":2053.3},{"s":10,"n":216.9,"p":2063.4},{"s":10,"n":219.4,"p":2064.5},{"s":10,"n":224.4,"p":2069.0},{"s":10,"n":228.9,"p":2069.5},{"s":10,"n":232.7,"p":2075.5},{"s":10,"n":234.4,"p":2078.3},{"s":10,"n":240.2,"p":2087.1},
{"s":11,"n":251.2,"p":2084.8},{"s":11,"n":256.2,"p":2092.3},{"s":11,"n":258.7,"p":2093.6},{"s":11,"n":261.4,"p":2095.1},
{"s":12,"n":269.9,"p":2082.0},{"s":12,"n":272.7,"p":2082.6},{"s":12,"n":277.7,"p":2087.6},{"s":12,"n":281.2,"p":2087.6},{"s":12,"n":286.9,"p":2091.5},{"s":12,"n":291.2,"p":2096.6},{"s":12,"n":295.2,"p":2102.2},{"s":12,"n":300.7,"p":2107.2},
{"s":13,"n":307.4,"p":2102.2},{"s":13,"n":309.4,"p":2102.9},{"s":13,"n":311.9,"p":2103.1},
{"s":14,"n":323.7,"p":2085.0},{"s":14,"n":326.9,"p":2088.6},{"s":14,"n":330.2,"p":2093.6},{"s":14,"n":335.2,"p":2101.1}
],
"fr":[
{"t":"r","a":0.1,"b":3.2,"p":2086.6},{"t":"r","a":3.4,"b":8.2,"p":2085.7},{"t":"r","a":8.4,"b":15.2,"p":2090.6},{"t":"r","a":15.4,"b":20.2,"p":2089.4},{"t":"r","a":20.4,"b":27.2,"p":2091.3},{"t":"r","a":27.4,"b":33.2,"p":2100.5},{"t":"r","a":33.4,"b":39.2,"p":2100.1},{"t":"r","a":39.4,"b":43.9,"p":2107.6},{"t":"r","a":44.2,"b":49.2,"p":2109.7},{"t":"r","a":49.4,"b":56.2,"p":2106.8},{"t":"r","a":56.4,"b":63.2,"p":2102.8},{"t":"r","a":63.4,"b":79.2,"p":2107.3},{"t":"r","a":79.4,"b":85.2,"p":2095.4},{"t":"r","a":85.4,"b":92.2,"p":2094.8},{"t":"r","a":92.4,"b":102.5,"p":2074.2},{"t":"r","a":102.7,"b":114.2,"p":2044.0},{"t":"r","a":114.4,"b":123.2,"p":2060.6},{"t":"r","a":123.4,"b":126.2,"p":2073.6},{"t":"r","a":126.4,"b":129.2,"p":2069.7},{"t":"r","a":129.4,"b":135.2,"p":2070.1},{"t":"r","a":135.4,"b":146.2,"p":2099.3},{"t":"r","a":146.4,"b":151.2,"p":2106.2},{"t":"r","a":151.4,"b":156.2,"p":2106.7},{"t":"r","a":156.4,"b":163.2,"p":2100.5},{"t":"r","a":163.4,"b":170.2,"p":2089.1},{"t":"r","a":170.4,"b":173.2,"p":2058.7},{"t":"r","a":173.4,"b":183.2,"p":2057.4},{"t":"r","a":183.4,"b":188.2,"p":2081.2},{"t":"r","a":188.4,"b":192.2,"p":2075.8},{"t":"r","a":192.4,"b":196.2,"p":2060.3},{"t":"r","a":196.4,"b":200.2,"p":2056.5},{"t":"r","a":200.4,"b":205.2,"p":2064.3},{"t":"r","a":205.4,"b":210.2,"p":2063.4},{"t":"r","a":210.4,"b":216.2,"p":2079.6},{"t":"r","a":216.4,"b":222.2,"p":2082.2},{"t":"r","a":222.4,"b":236.2,"p":2079.7},{"t":"r","a":236.4,"b":240.2,"p":2097.2},{"t":"r","a":240.4,"b":244.2,"p":2100.8},{"t":"r","a":244.4,"b":253.2,"p":2092.2},{"t":"r","a":253.4,"b":259.2,"p":2105.3},{"t":"r","a":259.4,"b":270.2,"p":2104.5},{"t":"r","a":270.4,"b":274.2,"p":2097.1},{"t":"r","a":274.4,"b":283.2,"p":2104.9},{"t":"r","a":283.4,"b":289.2,"p":2103.4},{"t":"r","a":289.4,"b":300.2,"p":2114.2},{"t":"r","a":300.4,"b":307.2,"p":2119.1},{"t":"r","a":307.4,"b":310.2,"p":2112.1},{"t":"r","a":310.4,"b":330.2,"p":2112.3},{"t":"r","a":330.4,"b":334.2,"p":2114.5},{"t":"r","a":334.4,"b":341.2,"p":2111.2},{"t":"r","a":341.4,"b":346.2,"p":2093.3},
{"t":"b","a":0.1,"b":6.2,"p":2075.1},{"t":"b","a":6.4,"b":14.4,"p":2073.1},{"t":"b","a":14.6,"b":19.2,"p":2080.6},{"t":"b","a":19.4,"b":26.2,"p":2079.5},{"t":"b","a":26.4,"b":31.4,"p":2074.2},{"t":"b","a":31.6,"b":38.2,"p":2091.9},{"t":"b","a":38.4,"b":45.2,"p":2094.8},{"t":"b","a":45.4,"b":51.2,"p":2099.3},{"t":"b","a":51.4,"b":61.2,"p":2093.4},{"t":"b","a":61.4,"b":68.4,"p":2092.5},{"t":"b","a":68.6,"b":74.2,"p":2087.6},{"t":"b","a":74.4,"b":80.2,"p":2077.3},{"t":"b","a":80.4,"b":87.2,"p":2085.2},{"t":"b","a":87.4,"b":90.2,"p":2057.5},{"t":"b","a":90.4,"b":99.4,"p":2058.0},{"t":"b","a":99.6,"b":106.2,"p":2033.3},{"t":"b","a":106.4,"b":116.2,"p":2030.3},{"t":"b","a":116.4,"b":128.2,"p":2032.2},{"t":"b","a":128.4,"b":134.2,"p":2055.7},{"t":"b","a":134.4,"b":140.2,"p":2052.0},{"t":"b","a":140.4,"b":150.2,"p":2076.2},{"t":"b","a":150.4,"b":153.2,"p":2093.0},{"t":"b","a":154.4,"b":168.2,"p":2093.5},{"t":"b","a":168.4,"b":174.2,"p":2033.0},{"t":"b","a":174.4,"b":190.2,"p":2040.7},{"t":"b","a":190.4,"b":193.2,"p":2034.0},{"t":"b","a":193.4,"b":198.2,"p":2039.3},{"t":"b","a":198.4,"b":205.2,"p":2043.6},{"t":"b","a":205.4,"b":209.2,"p":2037.8},{"t":"b","a":209.4,"b":219.2,"p":2042.5},{"t":"b","a":219.4,"b":223.2,"p":2064.3},{"t":"b","a":223.4,"b":228.2,"p":2065.7},{"t":"b","a":228.4,"b":241.2,"p":2066.7},{"t":"b","a":241.4,"b":246.2,"p":2085.0},{"t":"b","a":246.4,"b":250.2,"p":2075.5},{"t":"b","a":250.4,"b":257.2,"p":2087.1},{"t":"b","a":257.4,"b":265.2,"p":2089.1},{"t":"b","a":265.4,"b":277.2,"p":2064.0},{"t":"b","a":277.4,"b":281.2,"p":2087.2},{"t":"b","a":281.4,"b":286.2,"p":2080.0},{"t":"b","a":286.4,"b":291.2,"p":2087.2},{"t":"b","a":291.4,"b":301.2,"p":2102.8},{"t":"b","a":301.4,"b":306.2,"p":2100.1},{"t":"b","a":306.4,"b":312.2,"p":2087.8},{"t":"b","a":312.4,"b":319.2,"p":2090.2},{"t":"b","a":319.4,"b":328.2,"p":2070.3},{"t":"b","a":328.4,"b":337.2,"p":2098.0},{"t":"b","a":337.4,"b":343.2,"p":2081.2},{"t":"b","a":343.4,"b":346.2,"p":2061.0}
],
"lv":[
{"p":2117.2,"lvl":"H4[7/8]"},
{"p":2109.4,"lvl":"D1[7/8] H4[6/8]"},
{"p":2101.6,"lvl":"H4[5/8]"},
{"p":2093.8,"lvl":"MN1[3/8] W1[5/8] D1[6/8] H4PIVOT"},
{"p":2085.9,"lvl":"H4[3/8]"},
{"p":2078.1,"lvl":"D1[5/8] H4[2/8]"},
{"p":2070.3,"lvl":"H4[1/8]"},
{"p":2062.5,"lvl":"MN1[2/8] W1[2/8] D1PIVOT H4SUP"},
{"p":2054.7,"lvl":"H4[-1/8]"},
{"p":2046.9,"lvl":"D1[3/8] H4[-2/8]"}
],
"sep":[{"n":40,"d":"2015.02.25 00:00"},{"n":296,"d":"2015.04.27 00:00"}],
"tl":[
{"n":0,"t":"13 Feb 2015"},{"n":15,"t":"18 Feb 17:00"},{"n":50.6,"t":"Feb 01:00"},{"n":63,"t":"2 Mar 17:00"},{"n":79,"t":"5 Mar 09:00"},{"n":95,"t":"10 Mar 01:00"},{"n":111,"t":"12 Mar 17:00"},{"n":127,"t":"17 Mar 09:00"},{"n":143,"t":"20 Mar 01:00"},{"n":159,"t":"24 Mar 17:00"},{"n":175,"t":"27 Mar 09:00"},{"n":191,"t":"1 Apr 01:00"},{"n":207,"t":"6 Apr 01:00"},{"n":223,"t":"8 Apr 17:00"},{"n":239,"t":"13 Apr 09:00"},{"n":255,"t":"16 Apr 01:00"},{"n":271,"t":"20 Apr 17:00"},{"n":307.1,"t":"Apr 01:00"},{"n":319,"t":"30 Apr 17:00"},{"n":335,"t":"5 May 09:00"}
],
"blob":[
{"a":-0.625,"b":24.4,"p1":2119.98,"p2":2118.13},
{"a":-0.625,"b":8.1,"p1":2118.4,"p2":2116.97},
{"a":-0.625,"b":1.45,"p1":2117.2,"p2":2113.2},
{"a":-0.625,"b":27.4,"p1":2048.94,"p2":2046.72},
{"a":-0.625,"b":14.9,"p1":2046.08,"p2":2043.71},
{"a":-0.625,"b":1.05,"p1":2047.1,"p2":2043.06}
],
"tabs":[{"a":-0.625,"b":21.4,"act":1},{"a":21.4,"b":44.7,"act":0},{"a":44.7,"b":67.7,"act":0},{"a":67.7,"b":90.7,"act":0}]
},
"vconcat":[
{
"width":1552,"height":636,
"resolve":{"scale":{"y":"independent"}},
"layer":[
{"data":{"name":"bars"},"mark":{"type":"rule","color":"#FFFF00","strokeWidth":1},
"encoding":{"x":{"field":"n","type":"quantitative","scale":{"domain":[-0.625,387.375],"nice":false,"zero":false},"axis":{"orient":"bottom","title":null,"values":[7,15,23,31,39,47,55,63,71,79,87,95,103,111,119,127,135,143,151,159,167,175,183,191,199,207,215,223,231,239,247,255,263,271,279,287,295,303,311,319,327,335,343,351,359,367,375,383],"labels":false,"ticks":false,"domain":true,"grid":true,"minExtent":0,"maxExtent":0}},
"y":{"field":"v","type":"quantitative","scale":{"domain":[0,6360],"nice":false,"zero":true},"axis":null},"y2":{"datum":0}}},
{
"resolve":{"scale":{"color":"independent"}},
"layer":[
{"data":{"name":"bars"},"mark":{"type":"rule","color":"#000000","strokeWidth":1},
"encoding":{"x":{"field":"n","type":"quantitative"},
"y":{"field":"l","type":"quantitative","scale":{"domain":[2027.83,2123.76],"nice":false,"zero":false},"axis":{"orient":"right","title":null,"values":[2028.5,2033.5,2038.5,2043.5,2048.5,2053.5,2058.5,2063.5,2068.5,2073.5,2078.5,2083.5,2088.5,2093.5,2098.5,2103.5,2108.5,2113.5,2118.5,2123.5],"labelExpr":"indexof([2108.5,2093.5,2078.5,2058.5], datum.value) >= 0 ? '' : format(datum.value, '.1f')","grid":true,"ticks":true,"tickSize":3,"labelPadding":2,"labelFlush":2,"domain":true,"minExtent":34,"maxExtent":34}},
"y2":{"field":"h"}}},
{"data":{"name":"bars"},"mark":{"type":"bar","size":3,"stroke":"#000000","strokeWidth":0.6},
"encoding":{"x":{"field":"n","type":"quantitative"},"y":{"field":"o","type":"quantitative"},"y2":{"field":"c"},
"color":{"condition":{"test":"datum.c >= datum.o","value":"#00FF00"},"value":"#FF0000"}}},
{"data":{"name":"ma"},"mark":{"type":"line","color":"#ADD8E6","strokeWidth":1.6},
"encoding":{"x":{"field":"n","type":"quantitative"},"y":{"field":"p","type":"quantitative"},"detail":{"field":"s","type":"nominal"}}},
{"data":{"name":"tr"},"mark":{"type":"line","color":"#FFA500","strokeWidth":2},
"encoding":{"x":{"field":"n","type":"quantitative"},"y":{"field":"p","type":"quantitative"},"detail":{"field":"s","type":"nominal"}}},
{"data":{"name":"fr"},"mark":{"type":"rule","strokeWidth":3.6,"strokeCap":"round","strokeDash":[0.1,3.9]},
"encoding":{"x":{"field":"a","type":"quantitative"},"x2":{"field":"b"},"y":{"field":"p","type":"quantitative"},
"color":{"field":"t","type":"nominal","scale":{"domain":["r","b"],"range":["#FF0000","#0000FF"]},"legend":null}}},
{"data":{"name":"one"},"mark":{"type":"rule","color":"#A4A4A4","strokeWidth":1},"encoding":{"y":{"datum":2059.1,"type":"quantitative"}}},
{"data":{"name":"one"},"mark":{"type":"rule","color":"#FFFF00","strokeWidth":1.5,"strokeDash":[10,3,2,3]},"encoding":{"y":{"datum":2118.0,"type":"quantitative"}}},
{"data":{"name":"one"},"mark":{"type":"rule","color":"#FF4500","strokeWidth":1,"strokeDash":[8,4]},"encoding":{"y":{"datum":2117.45,"type":"quantitative"}}},
{"data":{"name":"one"},"mark":{"type":"rule","color":"#FF4500","strokeWidth":1,"strokeDash":[10,4,2,4]},"encoding":{"x":{"datum":0,"type":"quantitative"},"x2":{"datum":368},"y":{"datum":2044.0,"type":"quantitative"}}},
{"data":{"name":"lv"},"transform":[{"filter":{"field":"lvl","oneOf":["H4[7/8]","H4[5/8]","H4[3/8]","H4[1/8]","H4[-1/8]"]}}],"mark":{"type":"rule","strokeWidth":1},
"encoding":{"y":{"field":"p","type":"quantitative"},
"color":{"field":"lvl","type":"nominal","scale":{"domain":["H4[7/8]","H4[5/8]","H4[3/8]","H4[1/8]","H4[-1/8]"],"range":["#FFA500","#6B8E23","#6B8E23","#FFA500","#FFC0CB"]},"legend":null}}},
{"data":{"name":"lv"},"transform":[{"filter":{"field":"lvl","oneOf":["D1[7/8] H4[6/8]","D1[5/8] H4[2/8]","D1[3/8] H4[-2/8]"]}}],"mark":{"type":"rule","strokeWidth":2},
"encoding":{"y":{"field":"p","type":"quantitative"},
"color":{"field":"lvl","type":"nominal","scale":{"domain":["D1[7/8] H4[6/8]","D1[5/8] H4[2/8]","D1[3/8] H4[-2/8]"],"range":["#FF4500","#FF4500","#FF00FF"]},"legend":null}}},
{"data":{"name":"lv"},"transform":[{"filter":{"field":"lvl","oneOf":["MN1[3/8] W1[5/8] D1[6/8] H4PIVOT","MN1[2/8] W1[2/8] D1PIVOT H4SUP"]}}],"mark":{"type":"rule","strokeWidth":4,"color":"#1E90FF"},
"encoding":{"y":{"field":"p","type":"quantitative"}}},
{"data":{"name":"lv"},"mark":{"type":"text","align":"center","baseline":"top","dy":2.5,"fontSize":10.5,"font":"Liberation Sans"},
"encoding":{"x":{"datum":321.4,"type":"quantitative"},"y":{"field":"p","type":"quantitative"},"text":{"field":"lvl","type":"nominal"},
"color":{"field":"lvl","type":"nominal","scale":{"domain":["H4[7/8]","D1[7/8] H4[6/8]","H4[5/8]","MN1[3/8] W1[5/8] D1[6/8] H4PIVOT","H4[3/8]","D1[5/8] H4[2/8]","H4[1/8]","MN1[2/8] W1[2/8] D1PIVOT H4SUP","H4[-1/8]","D1[3/8] H4[-2/8]"],"range":["#FFA500","#FF4500","#7D8B3A","#3C96F0","#7D8B3A","#FF4500","#FFA500","#3C96F0","#FFC0CB","#FF00FF"]},"legend":null}}},
{"data":{"name":"blob"},"mark":{"type":"rect","color":"#FFFFFF","cornerRadius":4},
"encoding":{"x":{"field":"a","type":"quantitative"},"x2":{"field":"b"},"y":{"field":"p1","type":"quantitative"},"y2":{"field":"p2"}}},
{"data":{"name":"one"},"mark":{"type":"point","shape":"M-1,0C-1,-0.166,-0.552,-0.3,0,-0.3C0.552,-0.3,1,-0.166,1,0C1,0.166,0.552,0.3,0,0.3C-0.552,0.3,-1,0.166,-1,0Z","size":10000,"filled":false,"stroke":"#555555","strokeWidth":3,"strokeOpacity":0.3,"xOffset":3,"yOffset":4},"encoding":{"x":{"datum":351.7,"type":"quantitative"},"y":{"datum":2054.8,"type":"quantitative"}}},
{"data":{"name":"one"},"mark":{"type":"point","shape":"M-1,0C-1,-0.166,-0.552,-0.3,0,-0.3C0.552,-0.3,1,-0.166,1,0C1,0.166,0.552,0.3,0,0.3C-0.552,0.3,-1,0.166,-1,0Z","size":11236,"filled":false,"stroke":"#555555","strokeWidth":3,"strokeOpacity":0.3,"xOffset":3,"yOffset":4},"encoding":{"x":{"datum":354.9,"type":"quantitative"},"y":{"datum":2046.35,"type":"quantitative"}}},
{"data":{"name":"one"},"mark":{"type":"point","shape":"M-1,0C-1,-0.166,-0.552,-0.3,0,-0.3C0.552,-0.3,1,-0.166,1,0C1,0.166,0.552,0.3,0,0.3C-0.552,0.3,-1,0.166,-1,0Z","size":10000,"filled":false,"stroke":"#1E7B1E","strokeWidth":2.5,"opacity":1},"encoding":{"x":{"datum":351.7,"type":"quantitative"},"y":{"datum":2054.8,"type":"quantitative"}}},
{"data":{"name":"one"},"mark":{"type":"point","shape":"M-1,0C-1,-0.166,-0.552,-0.3,0,-0.3C0.552,-0.3,1,-0.166,1,0C1,0.166,0.552,0.3,0,0.3C-0.552,0.3,-1,0.166,-1,0Z","size":11236,"filled":false,"stroke":"#1E7B1E","strokeWidth":2.5,"opacity":1},"encoding":{"x":{"datum":354.9,"type":"quantitative"},"y":{"datum":2046.35,"type":"quantitative"}}},
{"data":{"name":"one"},"mark":{"type":"text","align":"left","baseline":"middle","fontSize":15.5,"color":"#C62828","font":"Liberation Sans"},"encoding":{"x":{"datum":317.4,"type":"quantitative"},"y":{"datum":2119.64,"type":"quantitative"},"text":{"value":"Sell=2118"}}},
{"data":{"name":"one"},"mark":{"type":"rule","color":"#C01818","strokeWidth":4},"encoding":{"x":{"datum":305.8,"type":"quantitative"},"y":{"datum":2122.55,"type":"quantitative"},"y2":{"datum":2120.6}}},
{"data":{"name":"one"},"mark":{"type":"point","shape":"M-1,-0.73L1,-0.73L0,0.73Z","size":225,"filled":true,"color":"#C01818","opacity":1},"encoding":{"x":{"datum":305.8,"type":"quantitative"},"y":{"datum":2120.0,"type":"quantitative"}}},
{"data":{"name":"one"},"mark":{"type":"rule","color":"#FF4500","strokeWidth":1,"strokeDash":[3,3]},"encoding":{"x":{"datum":368.4,"type":"quantitative"},"x2":{"datum":385.6},"y":{"datum":2104.0,"type":"quantitative"}}},
{"data":{"name":"one"},"mark":{"type":"point","shape":"triangle-right","size":28,"filled":true,"color":"#FF4500","opacity":1},"encoding":{"x":{"datum":386.0,"type":"quantitative"},"y":{"datum":2104.0,"type":"quantitative"}}},
{"data":{"name":"one"},"mark":{"type":"text","align":"left","baseline":"middle","fontSize":10.5,"color":"#4A9BEA","clip":true,"font":"Liberation Sans"},"encoding":{"x":{"datum":300.2,"type":"quantitative"},"y":{"datum":2124.06,"type":"quantitative"},"text":{"value":"MN1 PIVOT W1 PIVOT D1RES H4RES"}}},
{"data":{"name":"one"},"mark":{"type":"text","align":"left","baseline":"middle","dx":13,"fontSize":9.5,"color":"#000000","font":"Liberation Sans"},"encoding":{"x":{"datum":-0.625,"type":"quantitative"},"y":{"datum":2122.85,"type":"quantitative"},"text":{"value":"#US500M5,H4  2074.4 2074.8 2056.8 2059.1"}}},
{"data":{"name":"one"},"mark":{"type":"point","shape":"triangle-down","size":28,"filled":true,"color":"#000000","opacity":1},"encoding":{"x":{"datum":0.5,"type":"quantitative"},"y":{"datum":2122.85,"type":"quantitative"}}},
{"data":{"name":"lv"},"mark":{"type":"rect","xOffset":1,"x2Offset":34,"yOffset":-5.5,"y2Offset":5.5},
"encoding":{"x":{"datum":387.375,"type":"quantitative"},"x2":{"datum":387.375},"y":{"field":"p","type":"quantitative"},"y2":{"field":"p"},
"color":{"field":"lvl","type":"nominal","scale":{"domain":["H4[7/8]","D1[7/8] H4[6/8]","H4[5/8]","MN1[3/8] W1[5/8] D1[6/8] H4PIVOT","H4[3/8]","D1[5/8] H4[2/8]","H4[1/8]","MN1[2/8] W1[2/8] D1PIVOT H4SUP","H4[-1/8]","D1[3/8] H4[-2/8]"],"range":["#FFA500","#FF4500","#6B8E23","#1E90FF","#6B8E23","#FF4500","#FFA500","#1E90FF","#FFC0CB","#FF00FF"]},"legend":null}}},
{"data":{"name":"lv"},"mark":{"type":"text","align":"left","baseline":"middle","dx":4,"fontSize":9.5,"color":"#FFFFFF","font":"Liberation Sans"},
"encoding":{"x":{"datum":387.375,"type":"quantitative"},"y":{"field":"p","type":"quantitative"},"text":{"field":"p","type":"quantitative","format":".1f"}}},
{"data":{"name":"one"},"mark":{"type":"rect","color":"#000000","xOffset":1,"x2Offset":34,"yOffset":-5.5,"y2Offset":5.5},"encoding":{"x":{"datum":387.375,"type":"quantitative"},"x2":{"datum":387.375},"y":{"datum":2059.1,"type":"quantitative"},"y2":{"datum":2059.1}}},
{"data":{"name":"one"},"mark":{"type":"text","align":"left","baseline":"middle","dx":4,"fontSize":9.5,"color":"#FFFFFF","font":"Liberation Sans"},"encoding":{"x":{"datum":387.375,"type":"quantitative"},"y":{"datum":2059.1,"type":"quantitative"},"text":{"value":"2059.1"}}},
{"data":{"name":"sep"},"mark":{"type":"rule","color":"#FF0000","strokeWidth":1,"strokeDash":[10,4]},"encoding":{"x":{"field":"n","type":"quantitative"}}}
]
}
]
},
{
"width":1552,"height":123,
"resolve":{"scale":{"color":"independent"}},
"layer":[
{"data":{"name":"bars"},"mark":{"type":"bar","size":3},
"encoding":{"x":{"field":"n","type":"quantitative","scale":{"domain":[-0.625,387.375],"nice":false,"zero":false},"axis":{"orient":"bottom","title":null,"values":[7,15,23,31,39,47,55,63,71,79,87,95,103,111,119,127,135,143,151,159,167,175,183,191,199,207,215,223,231,239,247,255,263,271,279,287,295,303,311,319,327,335,343,351,359,367,375,383],"labels":false,"ticks":false,"domain":true,"grid":true,"minExtent":27,"maxExtent":27}},
"y":{"field":"m","type":"quantitative","scale":{"domain":[-14.132,12.116],"nice":false,"zero":false},"axis":{"orient":"right","title":null,"values":[-14.132,0,12.116],"labelExpr":"datum.value == 0 ? '0.00' : format(datum.value, '.3f')","labelFlush":true,"grid":false,"ticks":true,"tickSize":1,"labelPadding":1,"labelFontSize":8.8,"domain":true,"minExtent":34,"maxExtent":34}},
"y2":{"datum":0},
"color":{"field":"k","type":"nominal","scale":{"domain":["g","r","s"],"range":["#008000","#FF0000","#D3D3D3"]},"legend":null}}},
{"data":{"name":"one"},"mark":{"type":"rule","color":"#000000","strokeWidth":1,"strokeDash":[2,2]},"encoding":{"y":{"datum":0,"type":"quantitative"}}},
{"data":{"name":"ml"},"mark":{"type":"line","strokeWidth":2,"interpolate":"monotone"},
"encoding":{"x":{"field":"n","type":"quantitative"},"y":{"field":"y","type":"quantitative"},
"color":{"field":"s","type":"nominal","scale":{"domain":["sig","macd"],"range":["#800000","#FFA500"]},"legend":null}}},
{"data":{"name":"sep"},"mark":{"type":"rule","color":"#FF0000","strokeWidth":1,"strokeDash":[10,4]},"encoding":{"x":{"field":"n","type":"quantitative"}}},
{"data":{"name":"one"},"mark":{"type":"rule","color":"#000000","strokeWidth":1},"encoding":{"y":{"datum":12.116,"type":"quantitative"}}},
{"data":{"name":"one"},"mark":{"type":"text","align":"left","baseline":"middle","dx":2,"dy":8,"fontSize":8.8,"color":"#000000","font":"Liberation Sans"},"encoding":{"x":{"datum":-0.625,"type":"quantitative"},"y":{"datum":12.116,"type":"quantitative"},"text":{"value":"MACD Histogram (12,26,9) With Filter MA(13) -3.160 -4.903 -8.063"}}},
{"data":{"name":"tl"},"mark":{"type":"text","align":"left","baseline":"middle","dx":-2,"dy":10,"fontSize":9.5,"color":"#000000","font":"Liberation Sans"},
"encoding":{"x":{"field":"n","type":"quantitative"},"y":{"datum":-14.132,"type":"quantitative"},"text":{"field":"t","type":"nominal"}}},
{"data":{"name":"sep"},"mark":{"type":"rect","color":"#FF0000","xOffset":-38.5,"x2Offset":40,"yOffset":4.5,"y2Offset":16},
"encoding":{"x":{"field":"n","type":"quantitative"},"x2":{"field":"n"},"y":{"datum":-14.132,"type":"quantitative"},"y2":{"datum":-14.132}}},
{"data":{"name":"sep"},"mark":{"type":"text","align":"center","baseline":"middle","dx":0.75,"dy":10,"fontSize":9.5,"color":"#FFFFFF","font":"Liberation Sans"},
"encoding":{"x":{"field":"n","type":"quantitative"},"y":{"datum":-14.132,"type":"quantitative"},"text":{"field":"d","type":"nominal"}}},
{"data":{"name":"one"},"mark":{"type":"rect","color":"#F0F0F0","yOffset":19,"y2Offset":27,"x2Offset":34},"encoding":{"x":{"datum":-0.625,"type":"quantitative"},"x2":{"datum":387.375},"y":{"datum":-14.132,"type":"quantitative"},"y2":{"datum":-14.132}}},
{"data":{"name":"tabs"},"mark":{"type":"rect","stroke":"#8C8C8C","strokeWidth":1,"yOffset":20,"y2Offset":27},
"encoding":{"x":{"field":"a","type":"quantitative"},"x2":{"field":"b"},"y":{"datum":-14.132,"type":"quantitative"},"y2":{"datum":-14.132},
"color":{"condition":{"test":"datum.act == 1","value":"#FFFFFF"},"value":"#F0F0F0"}}}
]
}
]
}
